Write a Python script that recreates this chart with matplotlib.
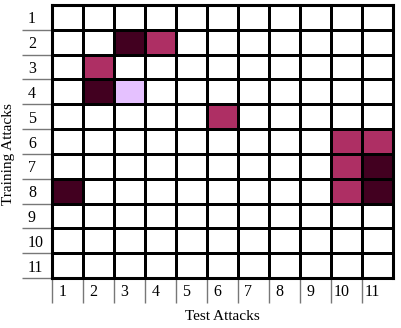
import numpy as np
import matplotlib
matplotlib.use("Agg")
import matplotlib.pyplot as plt
from matplotlib.colors import ListedColormap
import matplotlib.transforms as mtransforms

train_labels = [str(i) for i in range(1, 12)]
test_labels = [str(i) for i in range(1, 12)]

# 0 = none, 1 = light, 2 = medium, 3 = dark
# (row = training attack, col = test attack, 1-based)
cells = [
    (2, 3, 3), (2, 4, 2),
    (3, 2, 2),
    (4, 2, 3), (4, 3, 1),
    (5, 6, 2),
    (6, 10, 2), (6, 11, 2),
    (7, 10, 2), (7, 11, 3),
    (8, 1, 3), (8, 10, 2), (8, 11, 3),
]

grid = np.zeros((11, 11))
for r, c, v in cells:
    grid[r - 1, c - 1] = v

cmap = ListedColormap(["#ffffff", "#e5c1ff", "#ae2f64", "#420020"])

plt.rcParams["font.family"] = ["Liberation Serif", "DejaVu Serif"]

fig = plt.figure(figsize=(4.02, 3.28), dpi=100)
W, H = 402, 328
left, right, top, bottom = 52, 393, 5, 278
ax = fig.add_axes([left / W, 1 - bottom / H, (right - left) / W, (bottom - top) / H])

ax.pcolormesh(np.arange(12), np.arange(12), grid, cmap=cmap, vmin=-0.5, vmax=3.5,
              edgecolor="black", linewidth=1.8)
ax.set_xlim(0, 11)
ax.set_ylim(11, 0)
for s in ax.spines.values():
    s.set_linewidth(2.2)
    s.set_color("black")

# major ticks at centers for labels
ax.set_xticks(np.arange(11) + 0.5)
ax.set_yticks(np.arange(11) + 0.5)
ax.set_xticklabels(test_labels, fontsize=11.5)
ax.set_yticklabels(train_labels, fontsize=11.5, ha="left")
ax.tick_params(axis="both", which="major", length=0)
ax.tick_params(axis="y", which="major", pad=17.3)
ax.tick_params(axis="x", which="major", pad=4)
offset = mtransforms.ScaledTranslation(-5 / 100, 0, fig.dpi_scale_trans)
for lbl in ax.get_xticklabels():
    lbl.set_transform(lbl.get_transform() + offset)

# minor ticks at boundaries (grey lines)
ax.set_xticks(np.arange(0, 11), minor=True)
ax.set_yticks(np.arange(1, 12), minor=True)
ax.tick_params(axis="x", which="minor", length=18, width=1.0, color="#777777")
ax.tick_params(axis="y", which="minor", length=21.6, width=1.0, color="#777777")

fig.text(222 / W, 1 - 316 / H, "Test Attacks", ha="center", va="center", fontsize=11)
fig.text(9 / W, 1 - 154 / H, "Training Attacks", ha="center", va="center",
         rotation=90, fontsize=11)

fig.savefig("out.png", dpi=100)
